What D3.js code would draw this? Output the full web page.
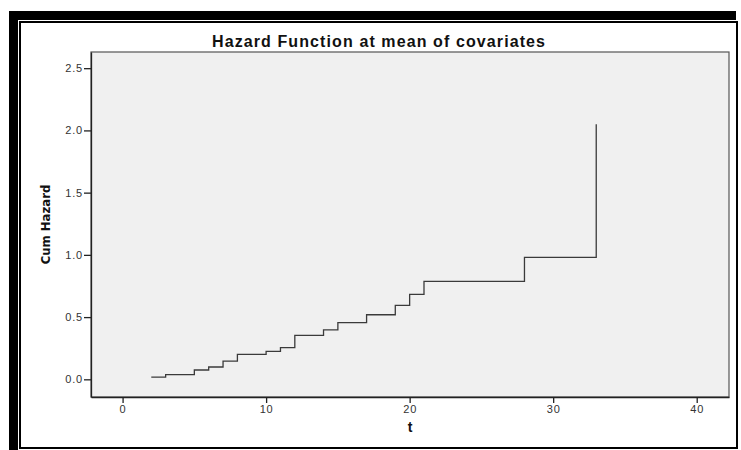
<!DOCTYPE html>
<html>
  <head>
    <title>Hazard Function at mean of covariates</title>
    <script src="https://d3js.org/d3.v7.min.js"></script>
    <style>
      body { margin: 0; background: #fff; }
      svg { display: block; }
    </style>
  </head>
  <body>
    <div id="chart"></div>

    <script>
      // data
      const times = [2, 3, 5, 6, 7, 8, 10, 11, 12, 14, 15, 17, 19, 20, 21, 28, 33];
      const cumHazard = [0.018, 0.037, 0.075, 0.099, 0.147, 0.2, 0.225, 0.254, 0.353, 0.398, 0.455, 0.519, 0.594, 0.683, 0.787, 0.98, 2.05];
      const xTicks = [0, 10, 20, 30, 40];
      const yTicks = [0, 0.5, 1, 1.5, 2, 2.5];

      const svg = d3.select("#chart").append("svg").attr("width", 741).attr("height", 450);

      // black frame offset up-left, white box on top
      svg.append("rect").attr("x", 9).attr("y", 11).attr("width", 727).attr("height", 439).attr("fill", "#000");
      svg.append("rect").attr("x", 18).attr("y", 20).attr("width", 721).attr("height", 430).attr("fill", "#fff");
      svg.append("rect").attr("x", 20).attr("y", 22).attr("width", 717).attr("height", 426)
        .attr("fill", "#fff").attr("stroke", "#000").attr("stroke-width", 2);

      const plot = { left: 91, right: 729, top: 52, bottom: 397 };

      const x = d3.scaleLinear().domain([-2.2, 42.25]).range([plot.left, plot.right]);
      const y = d3.scaleLinear().domain([-0.142, 2.63]).range([plot.bottom, plot.top]);

      svg.append("rect")
        .attr("x", plot.left).attr("y", plot.top)
        .attr("width", plot.right - plot.left).attr("height", plot.bottom - plot.top)
        .attr("fill", "#f0f0f0").attr("stroke", "#555").attr("stroke-width", 1.2);

      // axes
      const xAxis = svg.append("g")
        .attr("transform", `translate(0,${plot.bottom})`)
        .call(d3.axisBottom(x).tickValues(xTicks).tickFormat(d3.format("d")).tickSize(6).tickSizeOuter(0).tickPadding(2));
      const yAxis = svg.append("g")
        .attr("transform", `translate(${plot.left},0)`)
        .call(d3.axisLeft(y).tickValues(yTicks).tickFormat(d3.format(".1f")).tickSize(7).tickSizeOuter(0).tickPadding(1));

      [xAxis, yAxis].forEach(a => {
        a.select(".domain").attr("stroke", "#222").attr("stroke-width", 1.3);
        a.selectAll(".tick line").attr("stroke", "#222").attr("stroke-width", 1.3);
        a.selectAll(".tick text")
          .attr("fill", "#333")
          .style("font-family", "'Liberation Sans', Arial, sans-serif")
          .style("font-size", "11px")
          .style("letter-spacing", "0.8px");
      });

      // step line
      const pts = times.map((t, i) => [t, cumHazard[i]]);
      const line = d3.line().x(d => x(d[0])).y(d => y(d[1])).curve(d3.curveStepAfter);
      svg.append("path")
        .attr("d", line(pts))
        .attr("fill", "none")
        .attr("stroke", "#3a3a3a")
        .attr("stroke-width", 1.3);

      // titles
      svg.append("text")
        .attr("x", 378.5).attr("y", 47)
        .attr("text-anchor", "middle")
        .attr("textLength", 333)
        .attr("lengthAdjust", "spacing")
        .style("font-family", "'Liberation Sans', Arial, sans-serif")
        .style("font-weight", "bold")
        .style("font-size", "16px")
        .attr("fill", "#111")
        .text("Hazard Function at mean of covariates");

      svg.append("text")
        .attr("transform", `translate(50,${(plot.top + plot.bottom) / 2}) rotate(-90)`)
        .attr("text-anchor", "middle")
        .style("font-family", "'Liberation Sans Narrow', 'DejaVu Sans Condensed', Arial, sans-serif")
        .style("font-weight", "bold")
        .style("font-size", "13px")
        .attr("fill", "#111")
        .text("Cum Hazard");

      svg.append("text")
        .attr("x", (plot.left + plot.right) / 2).attr("y", 432)
        .attr("text-anchor", "middle")
        .style("font-family", "'Liberation Sans', Arial, sans-serif")
        .style("font-weight", "bold")
        .style("font-size", "14px")
        .attr("fill", "#111")
        .text("t");
    </script>
  </body>
</html>
